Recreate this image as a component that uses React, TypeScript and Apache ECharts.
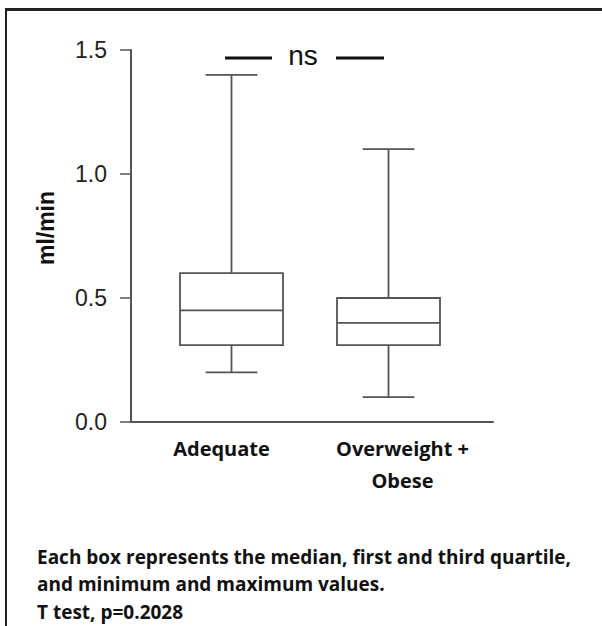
import React, { useEffect, useRef } from "react";
import * as echarts from "echarts";

const categories = ["Adequate", "Overweight +\nObese"];
const minValues = [0.2, 0.1];
const q1Values = [0.31, 0.31];
const medianValues = [0.45, 0.4];
const q3Values = [0.6, 0.5];
const maxValues = [1.4, 1.1];
const yTicks = { min: 0, max: 1.5, interval: 0.5 };
const footnotes = [
  "Each box represents the median, first and third quartile,",
  "and minimum and maximum values.",
  "T test, p=0.2028",
];
const significance = "ns";

export default function App() {
  const ref = useRef<HTMLDivElement>(null);
  useEffect(() => {
    if (!ref.current) return;
    const chart = echarts.init(ref.current, undefined, { renderer: "svg" });
    const boxData = categories.map((_, i) => [
      i,
      minValues[i],
      q1Values[i],
      medianValues[i],
      q3Values[i],
      maxValues[i],
    ]);
    const lineColor = "#555";
    const option: any = {
      animation: false,
      backgroundColor: "#fff",
      grid: [
        { left: 131, right: 109, top: 50, height: 372 },
        { left: 153, right: 135, top: 50, height: 372 },
      ],
      xAxis: [
        {
          gridIndex: 0,
          type: "category",
          data: categories,
          axisLine: { show: true, lineStyle: { color: lineColor, width: 2 } },
          axisTick: { show: false },
          axisLabel: {
            color: "#111",
            fontFamily: "Open Sans",
            fontWeight: "bold",
            fontSize: 20,
            lineHeight: 32,
            margin: 10,
          },
          splitLine: { show: false },
        },
        {
          gridIndex: 1,
          type: "category",
          data: categories,
          show: false,
        },
      ],
      yAxis: [
        {
          gridIndex: 0,
          type: "value",
          min: yTicks.min,
          max: yTicks.max,
          interval: yTicks.interval,
          name: "ml/min",
          nameLocation: "middle",
          nameRotate: 90,
          nameGap: 74,
          nameTextStyle: {
            color: "#111",
            fontFamily: "Liberation Sans",
            fontWeight: "bold",
            fontSize: 23,
            padding: [0, 0, 0, 16],
          },
          axisLine: { show: true, lineStyle: { color: lineColor, width: 2 } },
          axisTick: { show: true, length: 11, lineStyle: { color: lineColor, width: 1.5 } },
          axisLabel: {
            color: "#222",
            fontFamily: "Liberation Sans",
            fontSize: 23,
            margin: 24,
            formatter: (v: number) => v.toFixed(1),
          },
          splitLine: { show: false },
        },
        {
          gridIndex: 1,
          type: "value",
          min: yTicks.min,
          max: yTicks.max,
          interval: yTicks.interval,
          show: false,
        },
      ],
      series: [
        {
          type: "custom",
          xAxisIndex: 1,
          yAxisIndex: 1,
          data: boxData,
          encode: { x: 0, y: [1, 2, 3, 4, 5] },
          renderItem: (params: any, api: any) => {
            const idx = api.value(0);
            const lo = api.coord([idx, api.value(1)]);
            const q1 = api.coord([idx, api.value(2)]);
            const med = api.coord([idx, api.value(3)]);
            const q3 = api.coord([idx, api.value(4)]);
            const hi = api.coord([idx, api.value(5)]);
            const band = api.size([1, 0])[0];
            const bw = band * 0.656;
            const cw = band * 0.33;
            const x = lo[0];
            const style = { stroke: lineColor, lineWidth: 1.8, fill: "none" };
            return {
              type: "group",
              children: [
                { type: "line", shape: { x1: x, y1: hi[1], x2: x, y2: q3[1] }, style },
                { type: "line", shape: { x1: x - cw / 2, y1: hi[1], x2: x + cw / 2, y2: hi[1] }, style },
                { type: "rect", shape: { x: x - bw / 2, y: q3[1], width: bw, height: q1[1] - q3[1] }, style },
                { type: "line", shape: { x1: x - bw / 2, y1: med[1], x2: x + bw / 2, y2: med[1] }, style },
                { type: "line", shape: { x1: x, y1: q1[1], x2: x, y2: lo[1] }, style },
                { type: "line", shape: { x1: x - cw / 2, y1: lo[1], x2: x + cw / 2, y2: lo[1] }, style },
              ],
            };
          },
        },
      ],
      graphic: [
        { type: "line", shape: { x1: 6, y1: 8, x2: 6, y2: 640 }, style: { stroke: "#222", lineWidth: 2 } },
        { type: "line", shape: { x1: 5, y1: 9.5, x2: 640, y2: 9.5 }, style: { stroke: "#222", lineWidth: 3 } },
        { type: "line", shape: { x1: 225, y1: 58, x2: 272, y2: 58 }, style: { stroke: "#111", lineWidth: 3 } },
        { type: "line", shape: { x1: 336, y1: 58, x2: 384, y2: 58 }, style: { stroke: "#111", lineWidth: 3 } },
        {
          type: "text",
          x: 303,
          y: 55,
          style: {
            text: significance,
            fontFamily: "Liberation Sans",
            fontSize: 28,
            fill: "#111",
            align: "center",
            verticalAlign: "middle",
          },
        },
        ...footnotes.map((t, i) => ({
          type: "text",
          x: 37,
          y: [557, 584, 612][i],
          style: {
            text: t,
            fontFamily: "Open Sans",
            fontWeight: "bold",
            fontSize: 19,
            fill: "#111",
            align: "left",
            verticalAlign: "middle",
          },
        })),
      ],
    };
    chart.setOption(option);
    return () => chart.dispose();
  }, []);
  return (
    <div
      ref={ref}
      style={{ position: "fixed", left: 0, top: 0, width: 602, height: 626 }}
    />
  );
}
